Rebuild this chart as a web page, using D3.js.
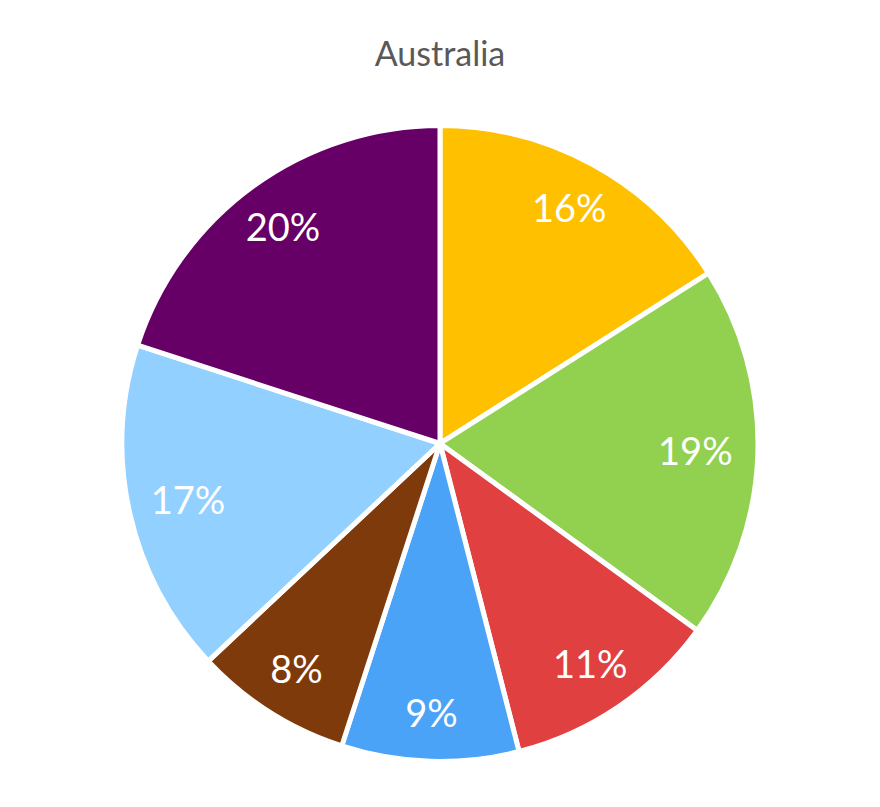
<!DOCTYPE html>
<html>
<head>
<meta charset="utf-8">
<script src="https://cdn.jsdelivr.net/npm/d3@7"></script>
<style>
  body { margin: 0; background: #fff; }
  text { font-family: Lato, "Open Sans", sans-serif; }
</style>
</head>
<body>
<div id="chart"></div>
<script>
// slice data, clockwise from 12 o'clock
const categories = ["A", "B", "C", "D", "E", "F", "G"];
const values = [16, 19, 11, 9, 8, 17, 20];
const sliceColors = ["#FFC000", "#92D050", "#E04040", "#4BA3F8", "#7F3A0C", "#92D0FF", "#660066"];
const title = "Australia";

let width = 880, height = 807;
let cx = 440, cy = 443.5, radius = 318;

let svg = d3.select('#chart')
    .append('svg')
    .attr('width', width)
    .attr('height', height);

svg.append("text")
    .attr("x", cx)
    .attr("y", 66)
    .attr("text-anchor", "middle")
    .style("font-size", "34px")
    .style("fill", "#595959")
    .text(title);

let pie = d3.pie().sort(null).value(function (d) { return d; });
let arc = d3.arc().innerRadius(0).outerRadius(radius);

let g = svg.append("g")
    .attr("transform", "translate(" + cx + "," + cy + ")");

let arcs = pie(values);

g.selectAll("path")
    .data(arcs)
    .enter()
    .append("path")
    .attr("d", arc)
    .style("fill", function (d, i) { return sliceColors[i]; })
    .style("stroke", "#fff")
    .style("stroke-width", 5);

// labels sit inside the end, a bit further out near top/bottom (text box is wider than tall)
function labelPos(d) {
    let a = (d.startAngle + d.endAngle) / 2;
    let r = 255 + 15 * Math.abs(Math.cos(a));
    return [r * Math.sin(a), -r * Math.cos(a)];
}

g.selectAll("text.lbl")
    .data(arcs)
    .enter()
    .append("text")
    .attr("class", "lbl")
    .attr("transform", function (d) { return "translate(" + labelPos(d) + ")"; })
    .attr("text-anchor", "middle")
    .attr("dy", "0.36em")
    .style("font-size", "38px")
    .style("fill", "#fff")
    .text(function (d) { return d.value + "%"; });
</script>
</body>
</html>
